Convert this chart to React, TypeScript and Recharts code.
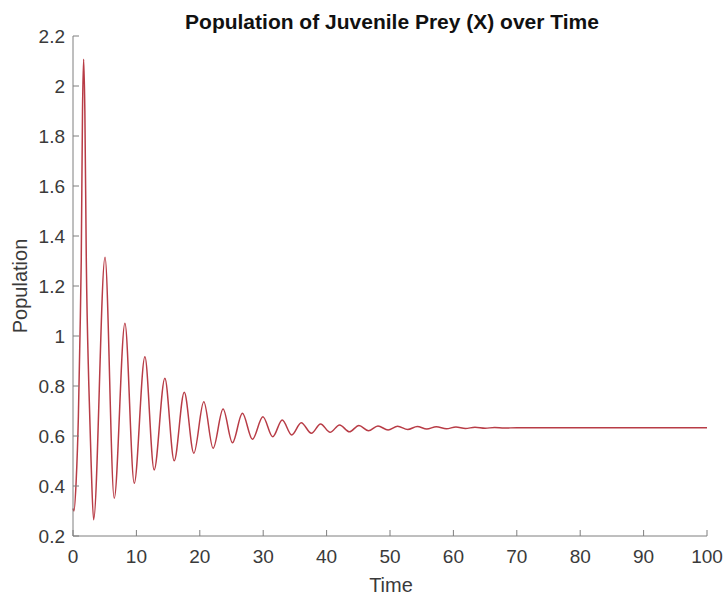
import React from "react";
import { LineChart, Line, XAxis, YAxis } from "recharts";

// readings of the curve: time and juvenile prey population
const times = [
  0, 0.15, 0.5, 0.85, 1.1, 1.3, 1.5, 1.68, 1.87, 2.1, 2.5, 2.85, 3.25,
  5.05, 6.5, 8.19, 9.66, 11.34, 12.8, 14.49, 15.96, 17.55, 19.06, 20.63, 22.1,
  23.67, 25.15, 26.72, 28.3, 29.95, 31.5, 33.0, 34.5, 36.0, 37.6, 39.05, 40.55,
  42.05, 43.6, 45.1, 46.6, 48.1, 49.7, 51.2, 52.8, 54.3, 55.8, 57.3, 58.9,
  60.4, 61.9, 63.4, 65.0, 66.5, 68.0, 70, 75, 80, 90, 100,
];
const values = [
  0.31, 0.3, 0.42, 0.68, 1.0, 1.3, 1.9, 2.107, 1.9, 1.3, 0.8, 0.5, 0.265,
  1.315, 0.351, 1.051, 0.411, 0.917, 0.464, 0.831, 0.501, 0.775, 0.531, 0.737,
  0.551, 0.708, 0.573, 0.691, 0.587, 0.677, 0.597, 0.664, 0.604, 0.653, 0.611,
  0.648, 0.615, 0.644, 0.617, 0.642, 0.621, 0.64, 0.624, 0.639, 0.626, 0.638,
  0.628, 0.637, 0.629, 0.636, 0.63, 0.635, 0.631, 0.634, 0.632, 0.633, 0.633,
  0.633, 0.633, 0.633,
];
const xTicks = [0, 10, 20, 30, 40, 50, 60, 70, 80, 90, 100];
const yTicks = [0.2, 0.4, 0.6, 0.8, 1, 1.2, 1.4, 1.6, 1.8, 2, 2.2];

const data = times.map((t, i) => ({ t, x: values[i] }));

const FONT = '"Liberation Sans", Arial, Helvetica, sans-serif';
const AXIS = "#7f7f7f";
const TEXT = "#3a3a3a";
const LINE = "#b83c46";
const TICK_LEN = 6;

const BottomTick = ({ x, y, payload }: any) => (
  <g>
    <line x1={x} y1={y - 14} x2={x} y2={y - 14 - TICK_LEN} stroke={AXIS} />
    <text x={x} y={y} dy="0.71em" textAnchor="middle" fill={TEXT} fontSize={19} fontFamily={FONT}>
      {payload.value}
    </text>
  </g>
);

const LeftTick = ({ x, y, payload }: any) => (
  <g>
    <line x1={x + 8} y1={y} x2={x + 8 + TICK_LEN} y2={y} stroke={AXIS} />
    <text x={x} y={y} dy="0.355em" textAnchor="end" fill={TEXT} fontSize={19} fontFamily={FONT}>
      {payload.value}
    </text>
  </g>
);

const TopTick = ({ x, y }: any) => (
  <line x1={x} y1={y} x2={x} y2={y + TICK_LEN} stroke={AXIS} />
);

const RightTick = ({ x, y }: any) => (
  <line x1={x} y1={y} x2={x - TICK_LEN} y2={y} stroke={AXIS} />
);

export default function App() {
  return (
    <div style={{ position: "absolute", left: 0, top: 0, width: 725, height: 597, background: "#fff", fontFamily: FONT }}>
      <div
        style={{
          position: "absolute", left: 0, width: 784, top: 11, textAlign: "center",
          fontSize: 21, fontWeight: "bold", lineHeight: "21px", color: "#111",
        }}
      >
        Population of Juvenile Prey (X) over Time
      </div>
      <div
        style={{
          position: "absolute", left: 0, width: 782, top: 575, textAlign: "center",
          fontSize: 20, lineHeight: "20px", color: TEXT,
        }}
      >
        Time
      </div>
      <div style={{ position: "absolute", left: 20, top: 286, width: 0, height: 0 }}>
        <div
          style={{
            position: "absolute", left: -60, top: -10, width: 120, textAlign: "center",
            fontSize: 20, lineHeight: "20px", color: TEXT, transform: "rotate(-90deg)",
          }}
        >
          Population
        </div>
      </div>
      <LineChart
        width={725}
        height={597}
        data={data}
        margin={{ top: 36, right: 18, bottom: 0, left: 0 }}
        style={{ position: "absolute", left: 0, top: 0 }}
      >
        <XAxis
          dataKey="t"
          type="number"
          domain={[0, 100]}
          ticks={xTicks}
          height={61}
          tickSize={0}
          tickMargin={14}
          axisLine={{ stroke: AXIS }}
          tickLine={false}
          tick={<BottomTick />}
          interval={0}
        />
        <XAxis
          xAxisId="top"
          dataKey="t"
          type="number"
          orientation="top"
          domain={[0, 100]}
          ticks={xTicks}
          height={0}
          tickSize={0}
          tickMargin={0}
          axisLine={{ stroke: AXIS }}
          tickLine={false}
          tick={<TopTick />}
          interval={0}
        />
        <YAxis
          type="number"
          domain={[0.2, 2.2]}
          ticks={yTicks}
          width={73}
          tickSize={0}
          tickMargin={8}
          axisLine={{ stroke: AXIS }}
          tickLine={false}
          tick={<LeftTick />}
          interval={0}
          allowDataOverflow
        />
        <YAxis
          yAxisId="right"
          type="number"
          orientation="right"
          domain={[0.2, 2.2]}
          ticks={yTicks}
          width={0}
          tickSize={0}
          tickMargin={0}
          axisLine={{ stroke: AXIS }}
          tickLine={false}
          tick={<RightTick />}
          interval={0}
          allowDataOverflow
        />
        <Line
          xAxisId="top"
          yAxisId="right"
          dataKey="x"
          stroke="none"
          dot={false}
          isAnimationActive={false}
        />
        <Line
          type="monotone"
          dataKey="x"
          stroke={LINE}
          strokeWidth={1.5}
          dot={false}
          isAnimationActive={false}
        />
      </LineChart>
    </div>
  );
}
